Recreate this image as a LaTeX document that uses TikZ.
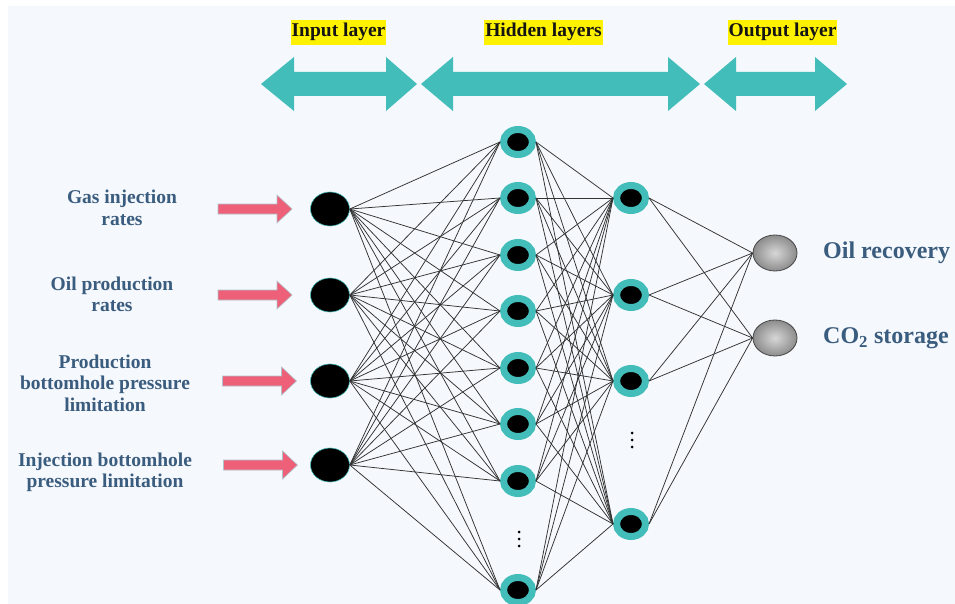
\documentclass[tikz,border=0pt]{standalone}
\usepackage{fontspec}
\setmainfont{Liberation Serif}
\usetikzlibrary{shapes.geometric}
\definecolor{bgc}{RGB}{245,248,252}
\definecolor{tealc}{RGB}{67,189,186}
\definecolor{pinkc}{RGB}{238,96,120}
\definecolor{labc}{RGB}{58,92,126}
\definecolor{edgec}{RGB}{50,50,50}
\newcommand\dblarr[4]{\fill[tealc] (#1,84) -- (#2,57) -- (#2,72) -- (#3,72) -- (#3,57) -- (#4,84) -- (#3,111) -- (#3,96) -- (#2,96) -- (#2,111) -- cycle;}
\begin{document}
\begin{tikzpicture}[x=1pt,y=-1pt,
  toplab/.style={fill=yellow, inner xsep=1pt, inner ysep=4pt, text height=13pt, text depth=4pt,
    font=\fontsize{19.5}{21.5}\selectfont\bfseries, text={rgb,255:red,20;green,20;blue,20}},
  leftlab/.style={align=center, text=labc, inner sep=0pt, font=\fontsize{19.5}{21.5}\selectfont\bfseries},
  outlab/.style={anchor=west, text=labc, inner sep=0pt, font=\fontsize{24}{26}\selectfont\bfseries},
  inpnode/.style={ellipse, fill=black, draw=tealc, line width=0.6pt, minimum width=39pt, minimum height=34pt, inner sep=0pt},
  hidnode/.style={ellipse, fill=black, draw=tealc, line width=7pt, minimum width=29pt, minimum height=25pt, inner sep=0pt},
  outnode/.style={ellipse, shading=radial, inner color={rgb,255:red,215;green,215;blue,215}, outer color={rgb,255:red,140;green,140;blue,140}, draw={rgb,255:red,70;green,70;blue,70}, line width=0.8pt, minimum width=44pt, minimum height=36pt, inner sep=0pt},
  edge/.style={draw=edgec, line width=0.75pt},
  pinkarrow/.style={fill=pinkc, draw={rgb,255:red,175;green,195;blue,205}, line width=0.6pt},
  pinkarr/.pic={\filldraw[pinkarrow] (-37,-5) -- (22,-5) -- (22,-14) -- (37,0) -- (22,14) -- (22,5) -- (-37,5) -- cycle;}
]
\useasboundingbox (0,0) rectangle (955,604);
\fill[white] (0,0) rectangle (955,604);
\fill[bgc] (8,6) rectangle (956,605);

% top labels
\node[toplab] (tlin) at (338.5,32.5) {Input layer};
\node[toplab] (tlhid) at (543.5,32.5) {Hidden layers};
\node[toplab] (tlout) at (782.5,32.5) {Output layer};

% top double arrows
\dblarr{261}{294}{386}{417}
\dblarr{421}{453}{668}{700}
\dblarr{704}{736}{815}{847}

% left labels
\node[leftlab] (l1) at (122,208) {Gas injection\\rates};
\node[leftlab] (l2) at (112,294.5) {Oil production\\rates};
\node[leftlab] (l3) at (105,383) {Production\\bottomhole pressure\\limitation};
\node[leftlab] (l4) at (105,472.5) {Injection bottomhole\\pressure limitation};

% pink arrows
\pic at (255,209) {pinkarr};
\pic at (255,295) {pinkarr};
\pic at (259.5,381) {pinkarr};
\pic at (260.5,465) {pinkarr};

% input nodes
\node[inpnode] (i1) at (330,209) {};
\node[inpnode] (i2) at (330,295) {};
\node[inpnode] (i3) at (330,381) {};
\node[inpnode] (i4) at (330,465) {};

% hidden layer 1
\foreach \k/\yy in {1/142,2/198,3/255,4/311,5/368,6/424,7/481,8/590}
  \node[hidnode] (h\k) at (518,\yy) {};
% hidden layer 2
\foreach \k/\yy in {1/198,2/295,3/381,4/524}
  \node[hidnode] (g\k) at (631,\yy) {};

% output nodes
\node[outnode] (o1) at (775,253) {};
\node[outnode] (o2) at (775,338) {};

% edges
\foreach \i in {1,...,4}
  \foreach \j in {1,...,8}
    \draw[edge] (i\i.east) -- (h\j.west);
\foreach \j in {1,...,8}
  \foreach \k in {1,...,4}
    \draw[edge] (h\j.east) -- (g\k.west);
\foreach \k in {1,...,4}
  \foreach \m in {1,2}
    \draw[edge] (g\k.east) -- (o\m.west);

% ellipsis dots
\foreach \yy in {532,539,546} \fill (519,\yy) circle (1.5pt);
\foreach \yy in {433,440,447} \fill (632,\yy) circle (1.5pt);

% output labels
\node[outlab] (ol1) at (823,253) {Oil recovery};
\node[outlab] (ol2) at (823,338) {CO\textsubscript{2} storage};
\end{tikzpicture}
\end{document}
